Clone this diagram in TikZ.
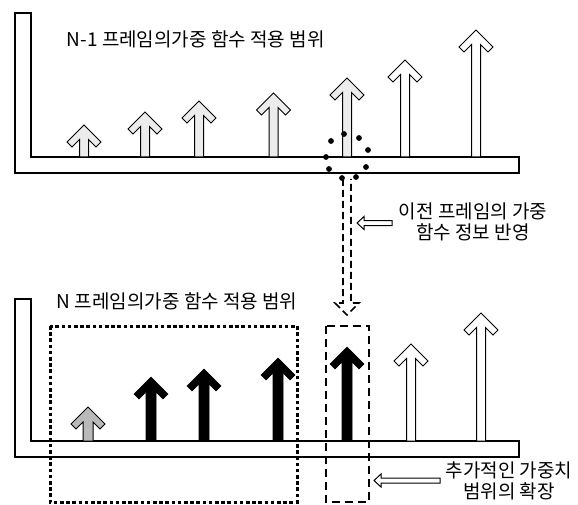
\documentclass[tikz,border=0pt]{standalone}
\usepackage{fontspec}
\setmainfont{Noto Sans CJK KR}
\newcommand\uparr[5]{% x, tip y, base y, half shaft width, style
  \path[#5] (#1,#2) -- ++(17,17) -- ++(-5,5) -- ({#1+#4},{#2+10+#4}) -- ({#1+#4},#3)
    -- ({#1-#4},#3) -- ({#1-#4},{#2+10+#4}) -- ({#1-12},{#2+22}) -- ++(-5,-5) -- cycle;}
\tikzset{
  bar/.style={draw, line width=1.1pt, fill=white},
  outarr/.style={draw, line width=1pt, fill=white},
  stiparr/.style={draw, line width=1pt, fill=gray!15},
  blkarr/.style={draw=black, line width=0.6pt, fill=black},
  grayarr/.style={draw=black, line width=1pt, fill=gray!55},
  lbl/.style={font=\fontsize{19}{21}\selectfont, inner sep=0pt},
  dotrect/.style={draw, line width=3pt, dash pattern=on 3.6pt off 2.6pt},
  dashrect/.style={draw, line width=1.9pt, dash pattern=on 8pt off 5pt},
  dasharr/.style={draw, line width=1.7pt, dash pattern=on 7pt off 4pt},
  hollow/.style={draw, line width=1pt, fill=white}
}
\begin{document}
\begin{tikzpicture}[x=1pt, y=-1pt]
\useasboundingbox (0,0) rectangle (578,505);
% ---------- top panel ----------
\path[bar] (15,13) -- (31,13) -- (31,157) -- (519,157) -- (519,173) -- (15,173) -- cycle;
\node[lbl, anchor=west] (t1) at (66.7,39) {N-1 프레임의가중 함수 적용 범위};
\uparr{84}{125}{157}{4.5}{stiparr}
\uparr{145}{112}{157}{4.5}{stiparr}
\uparr{199}{101}{157}{4.5}{stiparr}
\uparr{273.5}{93}{157}{4.5}{stiparr}
\uparr{347}{78}{157}{4.5}{stiparr}
\uparr{405}{60}{157}{4.5}{outarr}
\uparr{476}{30}{157}{4.5}{outarr}
\foreach \p in {(344,134),(359,138),(331,141),(368,150),(326,157),(329,169),(366,167),(342,178),(356,177)}
  \fill \p circle (2.9);
% dashed double arrow from N-1 to N
\coordinate (dtop) at (347,179);
\coordinate (dtip) at (347,315);
\path[dasharr] ([xshift=-4pt]dtop) -- (343,303) -- (335,303) -- (dtip) -- (359,303) -- (351,303) -- ([xshift=4pt]dtop);
\node[lbl, align=center] (l1) at (473,222) {이전 프레임의 가중\\함수 정보 반영};
\path[hollow] (392,220.5) -- (364,220.5) -- (364,216.5) -- (357,223) -- (364,229.5) -- (364,225.5) -- (392,225.5) -- cycle;
% ---------- bottom panel ----------
\path[bar] (15,299) -- (31,299) -- (31,441) -- (519,441) -- (519,457) -- (15,457) -- cycle;
\node[lbl, anchor=west] (t2) at (56.7,301.5) {N 프레임의가중 함수 적용 범위};
\uparr{88}{407}{441}{5}{grayarr}
\uparr{151}{377}{441}{5}{blkarr}
\uparr{204}{369}{441}{5}{blkarr}
\uparr{278}{358}{441}{5}{blkarr}
\uparr{347}{347}{441}{5}{blkarr}
\uparr{411}{344}{441}{4.5}{outarr}
\uparr{481}{313}{441}{4.5}{outarr}
\path[dotrect] (50,326) rectangle (297,502);
\path[dashrect] (326,326) rectangle (369,502);
\node[lbl, align=center] (l2) at (509,481) {추가적인 가중치\\범위의 확장};
\path[hollow] (440,478) -- (381,478) -- (381,474) -- (374,480.5) -- (381,487) -- (381,483) -- (440,483) -- cycle;
\end{tikzpicture}
\end{document}
